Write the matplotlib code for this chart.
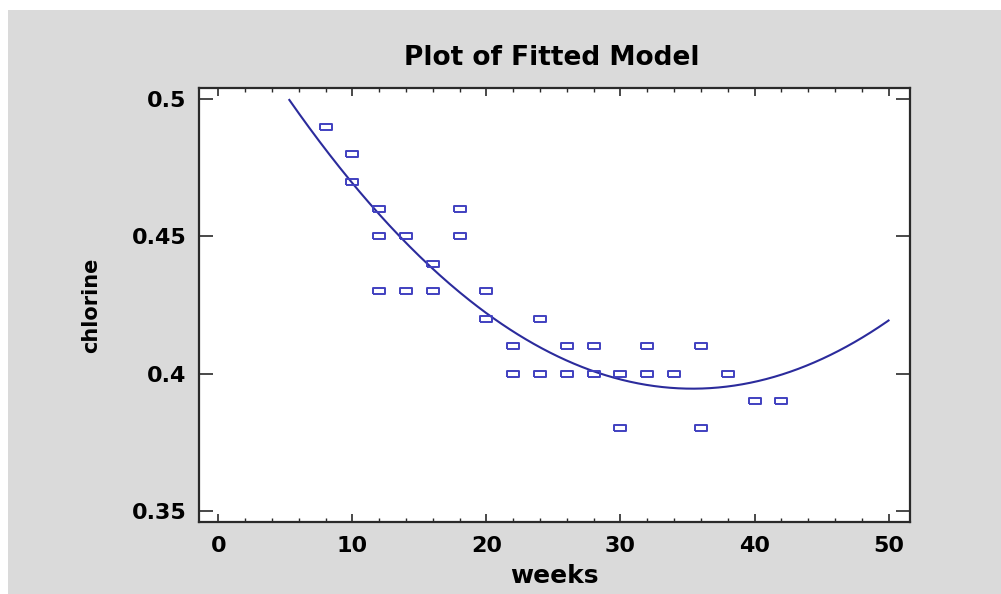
import numpy as np
import matplotlib
matplotlib.use("Agg")
import matplotlib.pyplot as plt
from matplotlib.patches import Rectangle
from matplotlib.ticker import MultipleLocator

# observations (weeks, chlorine)
weeks = [8, 10, 10, 12, 12, 12, 14, 14, 16, 16, 18, 18, 20, 20, 22, 22,
         24, 24, 26, 26, 28, 28, 30, 30, 32, 32, 34, 36, 36, 38, 40, 42]
chlorine = [0.49, 0.48, 0.47, 0.46, 0.45, 0.43, 0.45, 0.43, 0.44, 0.43, 0.46, 0.45,
            0.43, 0.42, 0.41, 0.40, 0.42, 0.40, 0.41, 0.40, 0.41, 0.40, 0.40, 0.38,
            0.41, 0.40, 0.40, 0.41, 0.38, 0.40, 0.39, 0.39]

# fitted quadratic: chlorine = b0 + b1*weeks + b2*weeks^2
coef = [0.5401, -0.00823, 0.0001163]
fit_range = [5.3, 50.0]

xticks = [0, 10, 20, 30, 40, 50]
yticks = [0.35, 0.4, 0.45, 0.5]

plt.rcParams['font.family'] = ['DejaVu Sans']
plt.rcParams['font.weight'] = 'bold'

fig = plt.figure(figsize=(10.01, 5.94), dpi=100, facecolor='white')
fig.patches.append(Rectangle((8 / 1001, 0), 1, 1 - 10 / 594, transform=fig.transFigure,
                             facecolor='#dadada', edgecolor='none', zorder=-10))

ax = fig.add_axes([199 / 1001, 72 / 594, 711 / 1001, 434 / 594])
ax.set_facecolor('white')

xs = np.linspace(fit_range[0], fit_range[1], 300)
ys = coef[0] + coef[1] * xs + coef[2] * xs ** 2
ax.plot(xs, ys, color='#2b2b9c', lw=1.5, zorder=2)

box = [(-1, -0.62), (1, -0.62), (1, 0.62), (-1, 0.62), (-1, -0.62)]
ax.plot(weeks, chlorine, ls='none', marker=box, ms=8, mfc='none',
        mec='#4040c0', mew=1.4, zorder=3)

ax.set_xlim(-1.44, 51.6)
ax.set_ylim(0.3459, 0.5041)
ax.set_xticks(xticks)
ax.set_xticklabels([str(t) for t in xticks])
ax.set_yticks(yticks)
ax.set_yticklabels(['0.35', '0.4', '0.45', '0.5'])
ax.xaxis.set_minor_locator(MultipleLocator(2))

for s in ax.spines.values():
    s.set_linewidth(1.6)
    s.set_color('#2a2a2a')

ax.tick_params(axis='x', which='major', direction='in', length=6, width=1.2,
               top=True, color='#2a2a2a', labelsize=16, pad=10)
ax.tick_params(axis='x', which='minor', direction='in', length=3, width=1.0,
               top=True, color='#2a2a2a')
ax.tick_params(axis='y', which='major', direction='in', length=10, width=1.2,
               right=True, color='#2a2a2a', labelsize=16, pad=9)
for lab in ax.get_xticklabels() + ax.get_yticklabels():
    lab.set_fontweight('bold')

ax.set_xlabel('weeks', fontsize=18, fontweight='bold', labelpad=6)
ax.set_ylabel('chlorine', fontsize=15, fontweight='bold', labelpad=22)
fig.text(552 / 1001, 1 - 58 / 594, 'Plot of Fitted Model', fontsize=19,
         fontweight='bold', ha='center', va='center')

fig.savefig('out.png', dpi=100, facecolor=fig.get_facecolor())
